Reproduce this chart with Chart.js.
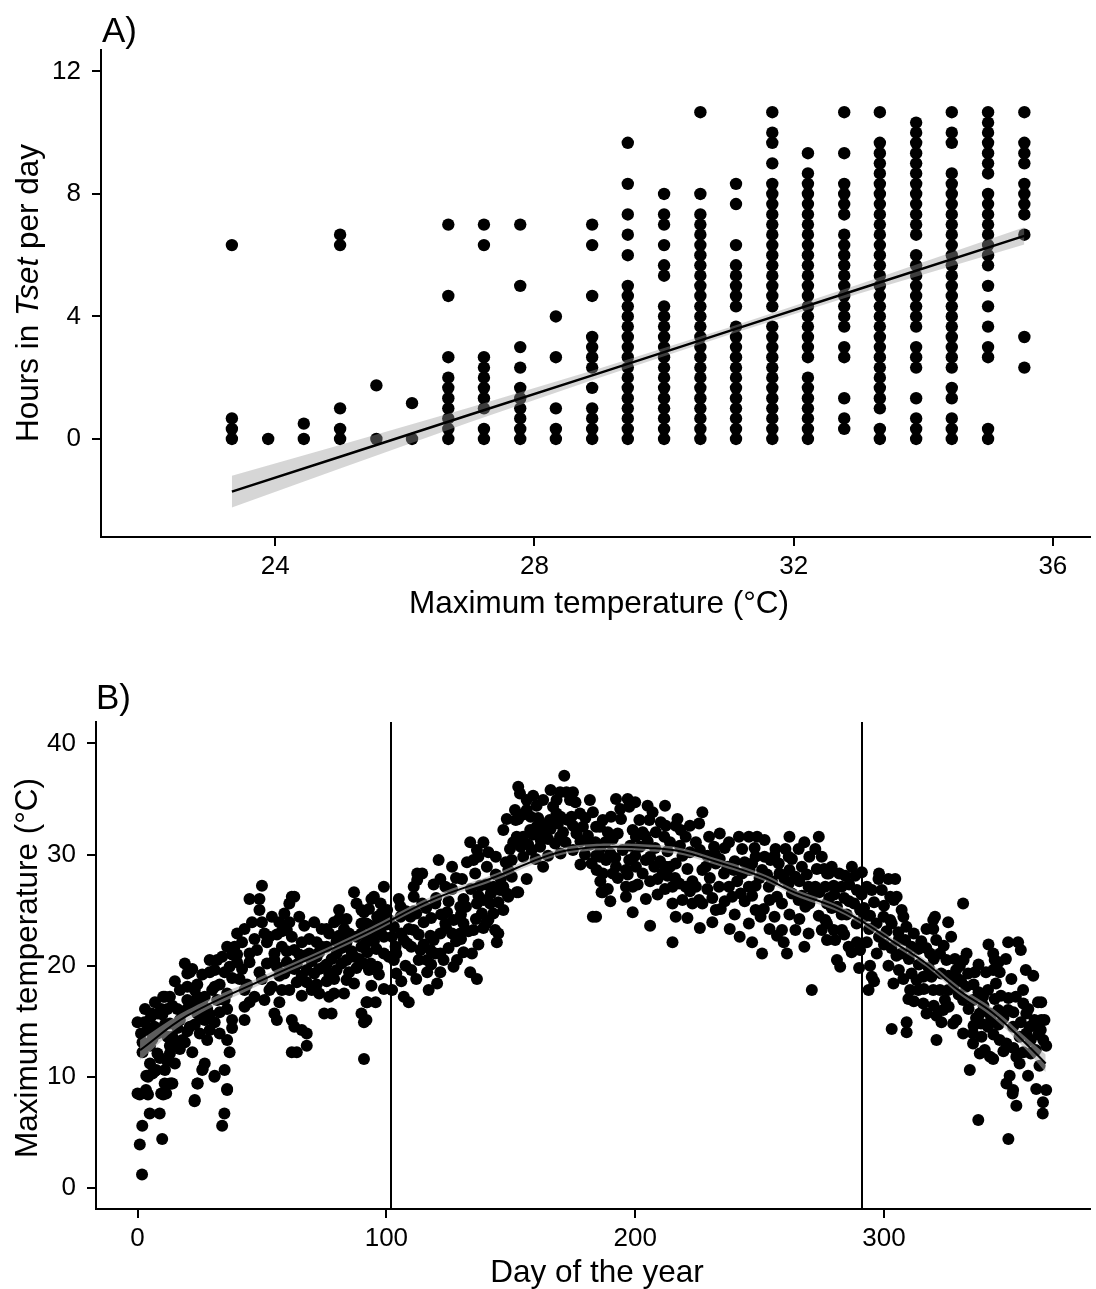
<!DOCTYPE html>
<html lang="en">
<head>
<meta charset="UTF-8">
<title>Hours in Tset and maximum temperature</title>
<script src="https://cdn.jsdelivr.net/npm/chart.js"></script>
<style>
  body { margin: 0; background: #fff; }
  .panel { position: absolute; left: 0; width: 1096px; }
  #panelA { top: 0; height: 640px; }
  #panelB { top: 640px; height: 649px; }
</style>
</head>
<body>
<div class="panel" id="panelA"><canvas id="chartA" width="1096" height="640"></canvas></div>
<div class="panel" id="panelB"><canvas id="chartB" width="1096" height="649"></canvas></div>
<script>
// ---- Panel A: hours in Tset vs daily maximum temperature ----
const tempCols = [23.33, 23.89, 24.44, 25, 25.56, 26.11, 26.67, 27.22, 27.78, 28.33, 28.89, 29.44,
                  30, 30.56, 31.11, 31.67, 32.22, 32.78, 33.33, 33.89, 34.44, 35, 35.56];
const hoursByCol = [
  [6.33, 0.67, 0.33, 0],
  [0],
  [0.5, 0],
  [6.67, 6.33, 1, 0.33, 0],
  [1.75, 0],
  [1.17, 0],
  [7, 4.67, 2.67, 2, 1.67, 1.33, 1, 0.67, 0.33, 0],
  [7, 6.33, 2.67, 2.33, 2, 1.67, 1.33, 1, 0.33, 0],
  [7, 5, 3, 2.33, 1.67, 1.33, 1, 0.67, 0.33, 0],
  [4, 2.67, 1, 0.33, 0],
  [7, 6.33, 4.67, 3.33, 3, 2.67, 2.33, 1.67, 1, 0.67, 0.33, 0],
  [9.67, 8.33, 7.33, 6.67, 6, 5, 4.67, 4.33, 4, 3.67, 3.33, 3, 2.67, 2.33, 2, 1.67, 1.33, 1, 0.67, 0.33, 0],
  [8, 7.33, 7, 6.33, 5.67, 5.33, 4.33, 4, 3.67, 3.33, 3, 2.67, 2.33, 2, 1.67, 1.33, 1, 0.67, 0.33, 0],
  [10.67, 8, 7.33, 7, 6.67, 6.33, 6, 5.67, 5.33, 5, 4.67, 4.33, 4, 3.67, 3.33, 3, 2.67, 2.33, 2, 1.67, 1.33, 1, 0.67, 0.33, 0],
  [8.33, 7.67, 6.33, 5.67, 5.33, 5, 4.67, 4.33, 3.67, 3.33, 3, 2.67, 2.33, 2, 1.67, 1.33, 1, 0.67, 0.33, 0],
  [10.67, 10, 9.67, 9, 8.33, 8, 7.67, 7.33, 7, 6.67, 6.33, 6, 5.67, 5.33, 5, 4.67, 4.33, 3.67, 3.33, 3, 2.67, 2.33, 2, 1.67, 1.33, 1, 0.67, 0.33, 0],
  [9.33, 8.67, 8.33, 8, 7.67, 7.33, 7, 6.67, 6.33, 6, 5.67, 5.33, 5, 4.67, 4.33, 4, 3.67, 3.33, 3, 2.67, 2, 1.67, 1.33, 1, 0.67, 0.33, 0],
  [10.67, 9.33, 8.33, 8, 7.67, 7.33, 6.67, 6.33, 6, 5.67, 5.33, 5, 4.67, 4.33, 4, 3.67, 3, 2.67, 1.33, 0.67, 0.33],
  [10.67, 9.67, 9.33, 9, 8.67, 8.33, 8, 7.67, 7.33, 7, 6.67, 6.33, 6, 5.67, 5.33, 5, 4.67, 4.33, 4, 3.67, 3.33, 3, 2.67, 2.33, 2, 1.67, 1.33, 1, 0.33, 0],
  [10.33, 10, 9.67, 9.33, 9, 8.67, 8.33, 8, 7.67, 7.33, 7, 6.67, 6, 5.67, 5.33, 5, 4.67, 4.33, 4, 3.67, 3, 2.67, 2.33, 1.33, 0.67, 0.33, 0],
  [10.67, 10, 9.67, 8.67, 8.33, 8, 7.67, 7.33, 7, 6.67, 6.33, 6, 5.67, 5.33, 5, 4.67, 4.33, 4, 3.67, 3.33, 3, 2.67, 2.33, 1.67, 1.33, 0.67, 0.33, 0],
  [10.67, 10.33, 10, 9.67, 9.33, 9, 8.67, 8, 7.67, 7.33, 7, 6.67, 6.33, 6, 5.67, 5, 4.33, 3.67, 3, 2.67, 0.33, 0],
  [10.67, 9.67, 9.33, 9, 8.33, 8, 7.67, 7.33, 6.67, 3.33, 2.33]
];
// linear fit with its confidence band
const regX = [23.33, 25, 27, 29, 31, 33, 35.56];
const regFit = [-1.72, -0.58, 0.79, 2.15, 3.52, 4.89, 6.63];
const regHalf = [0.52, 0.38, 0.24, 0.15, 0.12, 0.15, 0.28];
const ticksAX = [24, 28, 32, 36];
const ticksAY = [0, 4, 8, 12];

// ---- Panel B: maximum temperature through the year ----
const ptsWinter = [
  [0.9,3.9],[1.8,1.2],[1.9,5.6],[0.9,8.4],[4.2,8.4],[4.9,6.7],[8.9,6.7],[9.9,4.4],[34,5.6],[34.9,6.7],
  [36,8.9],[22.9,7.8],[24.2,9.4],[30.9,10],[26.2,10.7],[4.2,10],[6.9,10.5],[10.9,9.4],[13.6,9.4],[10.3,8.4],
  [0,14.9],[2.8,14.9],[5.4,15.4],[1.4,13.9],[4,14.2],[6.8,14.5],[2,13.1],[6,13.4],[9.5,14.2],[12,13.6],
  [13,12.8],[16,12.8],[8,12.1],[13,12.1],[15,11.2],[5,11.2],[7.5,10.6],[11,10.6],[3.5,10.1],[6,10.3],
  [13,9.4],[14,9.4],[27,11.2],[26,10.6],[31,10.1],[35,10.6],[36,13.3],[37,12.2],[24,9.4],[36,8.8],
  [23,7.9],[0,8.5],[3.4,8.8],[9.5,8.5],[11.5,8.5],[5.6,15.7],[8.2,15.7],[10.3,17.2],[13,17.2],
  [17,17.8],[20,18.1],[23,17.8],[27,17.2],[11,17.2],[9.5,16.1],[12,16.1],[16,16.1],[19.5,16],[28,16.1],
  [32,16.9],[35,16.9],[24,15.7],[27,15.1],[31,14.9],[21,14.5],[25,13.9],[29,14.2],[13,14.8],[17,15.1],
  [19,20.2],[21,19.4],[20,19.3],[29,20.5],[32,20.5],[29,19.4],[31,19.6],[35,19.4],[38,15.1],[43,15.1],
  [43,16.3],[45,16.7],
  [3,16.1],[7,16.7],[10,15.6],[14,16.4],[16,14.4],[18,15.8],[20,16.9],[22,16.4],[24,17.2],[26,16.6],
  [30,17.8],[33,18.3],[36,17.5],[38,18.9],[8,13.9],[11,14.7],[14,13.6],[18,13.3],[20,14.1],[23,14.7],
  [26,15.3],[29,15.6],[33,15.8],[36,16.1],[2,12.2],[5,12.8],[9,11.7],[12,11.4],[17,12.5],[19,13.1],
  [22,12.2],[28,13.3],[33,13.9],[38,14.4],[24,18.3],[26,19.2],[34,20.8],[37,19.9],[40,20.3],[15,18.6],
  [22,19.7],[31,18.1]
];
const ptsSpring = [
  [50,27.2],[45,26],[49,26],[62,26.2],[63,26.2],[61,25.6],[49,25],[46,23.9],[50,23.9],[40,22.9],
  [43,23.3],[51,22.9],[52,22.1],[57,23.9],[61,23.9],[65,24.4],[71,23.9],[60,23.2],[66,22.1],[72,22.1],
  [74,23.3],[76,23.3],[77,22.9],[81,25],[87,26.6],[88,25.6],[90,25],[81,24.2],[84,24.2],[90,23.8],
  [92,23.8],[94,26],[36,21.7],[39,21.7],[42,22.1],[38,21],[40,21],[45,21.1],[55,21.1],[58,21.7],
  [60,21.3],[52,20.2],[55,20.5],[65,21],[67,20.9],[69,21.1],[73,21.2],[41,18.8],[43,17.8],[49,19.4],
  [50,18.8],[56,19.9],[59,19.3],[60,20.3],[68,19.6],[71,19.3],[73,19.7],[77,19.3],[82,20.2],[85,19.4],
  [79,18.8],[53,17.8],[58,17.8],[61,17.8],[64,18.5],[68,18.5],[70,17.8],[73,17.5],[77,17.2],[87,18.4],
  [55,15.7],[56,15.1],[57,16.7],[62,15.1],[63,14.5],[66,14.2],[68,13.9],[68,12.8],[62,12.2],[64,12.2],
  [75,15.7],[78,15.7],[90,15.7],[92,15.1],[91,11.6],[92,16.7],[79,17.5],[83,17.5],[76,21.7],[80,21.1],
  [84,20.5],[87,20.8],[90,21.7],[92,22.1],[94,22.9],[91,20.2],[93,19.6],[81,22.7],[84,22.1],[90,22.9],
  [42,19.7],[45,20.3],[47,22.4],[48,21.4],[53,22.6],[54,24.4],[56,22.8],[58,23.1],[59,24.7],[62,22.6],
  [63,21.4],[64,20.1],[66,19.1],[67,23.6],[69,22.4],[70,20.4],[72,20.8],[74,21.7],[75,19.9],[76,18.6],
  [78,20.6],[79,23.9],[80,22.2],[82,21.6],[83,23.3],[85,22.9],[86,21.3],[88,22.6],[89,20.6],[91,24.8],
  [93,25.1],[95,22.2],[96,21.5],[97,23.9],[98,24.7],[99,22.6],[100,23.7],[44,18.3],[47,17.2],[51,16.9],
  [54,18.1],[57,19.1],[63,19.7],[66,17.3],[72,18.3],[76,20.1],[80,19.6],[84,18.7],[88,19.8],[94,18.2],
  [97,19.2],[99,17.9],
  [95,26.2],[99,27.1],[97.7,25.6],[105,26],[105.7,25.3],[111,26.2],[114.4,25.6],[119.7,25.6],[124.4,24.8],[131,26],
  [129.7,25.3],[138.4,24.7],[141,24.1],[91,23.8],[93.7,23.6],[96.3,24.4],[100.3,25],[105.7,24.4],[109.7,24.4],[115,23.9],
  [123.7,23.8],[131,23.8],[135,23.2],[139,23.4],[143.7,23.2],[145,22.9],[93.7,22.7],[97.7,23],[102.3,22.6],[107,22.3],
  [111,23.2],[117.7,22.7],[121.7,22.9],[126.4,22.9],[129.7,22.9],[144.4,22.1],[92.3,21.2],[99,21.1],[103.7,21.7],[108.4,22],
  [113.7,21.4],[117.7,21.4],[121.7,21.1],[128.4,20.5],[131,21.2],[134.4,21.1],[93.7,20.2],[96.3,19.9],[103,20.5],[107.7,20],
  [113,20.5],[116.4,20.5],[119.7,21.1],[123,20.5],[116.4,19.4],[121.7,19.4],[117,17.8],[120.4,18.4],[133.7,19.4],[136.4,18.8],
  [102.3,17.8],[107,17.2],[109,16.7],[92.3,16.7],[95.7,16.7],[91,14.9],
  [101,24.1],[103,23.5],[104,21.1],[106,22.9],[108,24.9],[109,23.3],[110,21.7],[112,24.7],[113,22.8],[115,21.9],
  [116,25.2],[118,24.3],[119,22.3],[120,26.1],[122,24.6],[124,23.4],[125,25.8],[127,24.1],[128,22.2],[130,24.6],
  [132,25.3],[133,23.1],[134,26.9],[136,24.2],[137,26.3],[139,25.9],[140,27.3],[142,26.5],[143,24.7],[144,28.2],
  [146,27.8],[148,29.3],[101,20.8],[104,19.3],[106,18.6],[110,19.6],[112,18.8],[118,20.1],[125,21.6],[127,19.9],
  [130,22.4],[137,21.9],[140,23.8],[145,25.7],[149,26.2],[111,24.9],[119,27.3],[128,27.9],[141,30.2],[144,29.8]
];
const ptsSummer = [
  [171.5,37.1],[169.8,35.6],[172.4,35.6],[168.4,34.9],[173.8,34.9],[153,36.1],[153.7,35.5],[156.4,34.9],[160.4,34.4],[151.7,34],
  [156.4,34],[148.4,33.2],[153,33.2],[147,32.2],[149.7,30.5],[150.4,29.5],[149,28.6],[152.4,31.6],[155,31.6],[157.8,32.2],
  [160.4,32.5],[163,32],[154,30.7],[158.4,30.4],[161.8,30.7],[165,31.4],[167.8,31],[169.8,31.6],[165.7,33.1],[168.4,33.7],
  [174.4,33.4],[177.8,33.7],[181.8,34.9],[171,32],[176.4,31.9],[179,32.5],[179.8,30],[182.5,29.2],[184.5,28.6],[185.8,32.5],
  [185.8,29.8],[186.5,26.6],[183,24.4],[163,28.9],[156.4,27.8],[153,26.6],[150.4,28],[147,27.1],[133.7,31.1],[139,31.1],
  [136.4,30.4],[137,29.8],[132.4,29.3],[135,29.5],[140.4,28.9],[121,29.5],[126.4,28.9],[112.4,28.3],[114.4,28.3],[111,27.1],
  [112.4,27.7],[121.7,27.8],[123.7,27.1],[126.4,26.9],[130.4,27.8],[135.7,28.3],[137.7,27.2],[143,27.1],[145.7,26.8],[148.4,26.5],
  [136.4,25.6],[141.7,25.6],[147,25],[152.4,26.6],
  [151,31.1],[152,33.1],[155,33.6],[157,30.9],[158,33.4],[159,31.8],[161,33.3],[162,31.3],[164,32.7],[166,32.3],
  [167,34.3],[169,32.8],[170,33.4],[172,31.1],[173,33.1],[175,32.6],[176,34.7],[178,31.2],[180,33.3],[181,31.7],
  [183,33.8],[184,31.1],[155,29.8],[160,29.6],[165,29.9],[170,30.1],[175,30.4],[178,29.1],[182,30.9],[159,35.3],
  [163,34.9],[166,35.8],[175,35.6],
  [192.3,35],[197,35],[197.6,34.3],[205,34.4],[207,33.8],[201.7,33.1],[205.7,33.1],[210.3,32.9],[212.3,32.6],[217,33.2],
  [227,33.8],[225.7,32.8],[187,33.1],[190.3,33.4],[194.3,33.2],[184.3,32.5],[189,32],[191,31.4],[199,32.2],[200.3,31.6],
  [203,32],[208.3,32],[211.7,31.6],[216.3,32.6],[218.3,32.2],[220.3,31.6],[224.4,31.1],[229.7,31.6],[231.7,30.7],[237.7,31.1],
  [241.7,31.6],[245.7,31.6],[249,31.6],[243,30.5],[248.4,29.8],[256.4,30.5],[260.4,30.5],[265.7,30.5],[273.8,31.6],[272.4,30.5],
  [275,29.8],[184.3,29.9],[188.3,29.5],[192.3,28.9],[196.3,28.6],[187,28.3],[191,28.3],[197.6,29.5],[200.3,28.9],[204.3,29.5],
  [207.7,28.9],[212.3,28.9],[216.3,29.2],[215,27.1],[217.7,27.4],[220.3,27.1],[211,28.3],[213,28.1],[224.4,27.1],[225.7,25.9],
  [223,25.6],[227,25.6],[228.4,28.9],[232.4,29.2],[235.7,28.3],[233.7,27.1],[237.7,27.1],[239,26.2],[242.4,26.5],[232.4,25],
  [234.4,25.1],[231,23.9],[239.7,28.6],[243,28.3],[247,29.2],[251,28.6],[245.7,27.1],[248.4,27.2],[254.4,29.5],[257.7,29.2],
  [261.7,29.8],[253.7,27.1],[257,26.2],[259,25.6],[248.4,25],[251.7,25.1],[250.4,24.4],[245.7,23.8],[261.7,27.4],[264.4,28],
  [267,28.9],[263,26.5],[265.7,25.9],[268.4,25.3],[269.7,27.1],[272.4,27.1],[276.4,27.1],[277.8,28.3],[279,28.9],[273.8,24.5],
  [276.4,24.1],[259,23.2],[257,22.7],[264.4,23.2],[269.7,22.9],[259.7,22.1],[247,22.1],[251,21.1],[261,21.1],[271,17.8],
  [215,25.6],[216.3,24.4],[215,22.1],[187,26.6],[196.3,27.1],[199,27.1],[196.3,26.2],[204.3,26],[184.3,24.4],
  [186,30.6],[188,31.1],[190,30.1],[192,29.7],[193,31.9],[195,30.4],[197,28.2],[198,30.8],[200,29.9],[202,30.7],
  [203,28.3],[205,31.2],[206,29.8],[208,30.6],[209,27.8],[210,29.4],[213,30.3],[214,28.9],[216,27.9],[218,30.8],
  [219,29.9],[221,28.7],[222,30.2],[223,27.6],[226,30.4],[227,28.6],[229,29.9],[230,27.9],[232,30.1],[234,29.6],
  [236,30.6],[237,28.9],[240,29.4],[241,27.6],[244,29.3],[246,28.6],[248,30.6],[250,27.9],[252,29.8],[253,28.2],
  [255,27.6],[256,29.9],[258,28.3],[260,27.8],[262,28.6],[263,29.6],[266,27.6],[267,26.3],[269,28.2],[270,29.8],
  [271,26.2],[273,28.7],[274,26.6],[276,28.7],[278,26.1],[279,25.2],[186,27.6],[189,26.9],[193,27.9],[201,27.3],
  [206,27.6],[209,26.4],[212,26.9],[219,25.9],[222,26.7],[229,26.9],[231,26.1],[236,25.8],[240,24.6],[244,25.8],
  [247,26.3],[254,25.9],[256,24.4],[262,24.6],[266,24.2],[270,25.6],[275,23.2],[190,25.8],[199,24.8],[206,23.6],
  [221,24.3],[226,23.4],[238,23.3],[242,22.6],[254,23.3],[268,21.7],[204,31.7],[214,31.1],[222,32.6],[234,31.9],
  [252,31.3],[262,31.6],[268,31.1],[194,34.1],[200,34.7],[212,34.4]
];
const ptsAutumn = [
  [287.1,28.9],[291.1,28.4],[277.1,28.3],[279.8,27.2],[284.4,28.1],[288.4,28.1],[283,27.1],[289.1,26.8],[293.1,27.1],[297.8,27.8],
  [301.8,27.8],[304.5,27.8],[295.1,26.8],[299.1,26.8],[302.5,26.2],[305.1,26.2],[277.1,25.6],[281.1,25.3],[290.4,25],[294.4,24.5],
  [299.8,24.4],[302.5,24.1],[307.1,25],[307.8,24.4],[331.8,25.6],[277.1,23.8],[279.8,23.2],[283.1,23.2],[277.1,22.3],[280.4,22.3],
  [285.8,21.7],[289.1,22.1],[293.1,22.1],[281.1,20.5],[282.4,19.9],[290.4,21.4],[303.1,23.8],[305.8,23],[308.5,22.3],[311.1,21.7],
  [313.8,21.5],[317.1,23.3],[319.8,24.1],[320.5,24.4],[325.8,23.9],[319.8,23.3],[318.5,21.1],[322.5,21.1],[325.1,20.5],[328.5,20.6],
  [330.5,20],[333.2,21.1],[343.9,21.1],[344.5,20.5],[343.9,19.6],[346.5,19.4],[351.2,18.8],[349.9,22.1],[353.9,22.1],[294.4,20],
  [297.1,21.1],[295.1,19],[293.8,17.8],[301.8,20],[303.8,18.4],[307.8,18.8],[311.1,19.3],[313.1,18.7],[315.8,19],[310.5,17.8],
  [313.8,17.8],[309.8,17],[315.8,16.6],[317.1,15.7],[319.1,19],[319.8,17.8],[322.5,17.8],[325.8,17.8],[324.5,16.9],[323.8,16],
  [329.1,15.1],[321.1,15.5],[323.1,14.9],[327.8,14.8],[329.8,18.8],[333.8,19.3],[336.5,19.4],[331.8,16.9],[335.8,16.9],[339.8,17.2],
  [341.8,17.8],[344.5,17],[349.9,16],[338.5,15.7],[342.5,15.7],[345.9,16],[355.9,17.8],[357.2,15.7],[361.9,16.7],[363.2,15.1],
  [360.5,15.1],[364.5,15.1],[358.5,14.5],[351.9,14.5],[354.5,13.6],[357.2,13.9],[331.8,13.9],[335.8,13.9],[339.2,13.6],[335.8,13],
  [338.5,12.1],[340.5,12.4],[343.9,11.6],[341.8,14.5],[346.5,13.3],[349.2,13],[334.5,10.6],[303.1,14.3],[309.1,14.9],[309.1,14],
  [321.1,13.3],[353.2,11.8],[354.5,11.2],[357.9,10.1],[350.5,10.1],[349.2,9.4],[351.9,8.8],[361.2,8.9],[365.2,8.8],[363.9,7.7],
  [353.2,7.4],[365.2,12.8],[362.5,11],[363.2,16.7],[337.9,6.1],[350,4.4],[351.7,8.5],[363.8,6.7],[342.6,11.8],
  [280,26.4],[282,28.3],[284,26.1],[285,24.6],[286,27.3],[288,25.6],[289,23.8],[291,26.4],[292,25.2],[294,23.3],
  [296,25.7],[297,23.8],[298,22.6],[300,25.4],[301,23.1],[303,21.6],[304,25.9],[306,22.4],[307,21.1],[309,23.5],
  [310,20.6],[312,22.9],[314,20.1],[315,22.2],[317,21.6],[318,19.8],[320,20.6],[321,22.3],[323,19.3],[324,21.8],
  [326,19.1],[327,22.6],[328,18.2],[329,19.6],[331,18.6],[332,20.5],[284,22.8],[287,21.2],[290,19.8],[296,18.6],
  [300,21.9],[305,20.9],[306,19.6],[312,16.8],[316,17.9],[320,16.4],[326,16.3],[330,17.4],[286,25.8],[298,28.3],
  [292,24.4],[283,24.6],
  [333,18.1],[334,16.1],[336,18.3],[337,15.3],[338,17.6],[340,16.4],[341,19.4],[343,15.1],[345,18.4],[346,14.7],
  [347,17.3],[348,15.3],[350,17.1],[352,15.8],[353,17.2],[355,14.9],[356,16.6],[358,16.1],[359,13.3],[360,14.6],
  [362,13.8],[363,14.2],[364,13.3],[336,14.6],[339,14.8],[344,13.8],[348,12.3],[352,12.6],[356,12.2],[359,12.1],
  [361,12.4],[346,20.3],[349,20.6],[342,21.9],[355,21.4],[357,19.6],[360,19.1],[338,20.1]
];
// smooth seasonal fit and half width of its band
const smoothDay = [1, 20, 50, 75, 94, 118, 144, 160, 171, 180, 192, 205, 218, 232, 251, 264, 280, 291, 304, 317, 330, 344, 357, 365];
const smoothFit = [12.4, 15.5, 18.7, 21.2, 23.2, 25.9, 28.0, 29.5, 30.3, 30.6, 30.7, 30.6, 30.3, 29.4, 28.0, 26.6, 25.3, 24.0, 22.1, 20.2, 17.8, 15.7, 13.0, 11.2];
const smoothHalf = [0.9, 0.5, 0.35, 0.3, 0.3, 0.3, 0.3, 0.3, 0.3, 0.3, 0.3, 0.3, 0.3, 0.3, 0.3, 0.3, 0.3, 0.3, 0.3, 0.3, 0.35, 0.4, 0.55, 0.8];
const vlineDays = [102, 291];
const ticksBX = [0, 100, 200, 300];
const ticksBY = [0, 10, 20, 30, 40];

const FONT = '"Liberation Sans", Arial, Helvetica, sans-serif';
const BAND = 'rgba(153,153,153,0.4)';
const BAND_B = 'rgba(170,170,170,0.55)';

// axis in the ggplot classic look: black line, outward ticks, no grid
function axis(min, max, tickVals, fit, pad) {
  return {
    type: 'linear', min: min, max: max,
    afterBuildTicks: s => { s.ticks = tickVals.map(v => ({ value: v })); },
    afterFit: fit,
    grid: { display: true, drawOnChartArea: false, drawTicks: true, tickLength: 9, color: '#000', lineWidth: 2 },
    border: { display: true, color: '#000', width: 2 },
    ticks: { color: '#000', font: { family: FONT, size: 26 }, padding: pad, maxRotation: 0, autoSkip: false }
  };
}

// titles and panel letters drawn straight on the canvas
const textPlugin = {
  id: 'panelText',
  afterDraw(chart, args, opts) {
    const ctx = chart.ctx;
    ctx.save();
    ctx.fillStyle = '#000';
    ctx.textBaseline = 'alphabetic';
    opts.items.forEach(it => {
      ctx.save();
      ctx.translate(it.x, it.y);
      if (it.rotate) ctx.rotate(-Math.PI / 2);
      let widths = it.parts.map(p => {
        ctx.font = (p.italic ? 'italic ' : '') + it.size + 'px ' + FONT;
        return ctx.measureText(p.t).width;
      });
      let total = widths.reduce((a, b) => a + b, 0);
      let x = it.align === 'left' ? 0 : -total / 2;
      it.parts.forEach((p, i) => {
        ctx.font = (p.italic ? 'italic ' : '') + it.size + 'px ' + FONT;
        ctx.textAlign = 'left';
        ctx.fillText(p.t, x, 0);
        x += widths[i];
      });
      ctx.restore();
    });
    ctx.restore();
  }
};

// vertical reference lines for panel B
const vlinePlugin = {
  id: 'vlines',
  afterDatasetsDraw(chart, args, opts) {
    if (!opts.days) return;
    const ctx = chart.ctx, area = chart.chartArea, xs = chart.scales.x;
    ctx.save();
    ctx.strokeStyle = '#000';
    ctx.lineWidth = 2;
    opts.days.forEach(d => {
      const px = Math.round(xs.getPixelForValue(d));
      ctx.beginPath();
      ctx.moveTo(px, area.top);
      ctx.lineTo(px, area.bottom);
      ctx.stroke();
    });
    ctx.restore();
  }
};

// ---- build panel A ----
const ptsA = [];
tempCols.forEach((t, i) => hoursByCol[i].forEach(h => ptsA.push({ x: t, y: h })));

new Chart(document.getElementById('chartA'), {
  type: 'scatter',
  data: {
    datasets: [
      { type: 'line', data: regX.map((x, i) => ({ x: x, y: regFit[i] })), borderColor: '#000', borderWidth: 2.5,
        pointRadius: 0, fill: false, order: 0 },
      { type: 'line', data: regX.map((x, i) => ({ x: x, y: regFit[i] + regHalf[i] })), borderWidth: 0,
        pointRadius: 0, fill: 2, backgroundColor: BAND, order: 1 },
      { type: 'line', data: regX.map((x, i) => ({ x: x, y: regFit[i] - regHalf[i] })), borderWidth: 0,
        pointRadius: 0, fill: false, order: 1 },
      { data: ptsA, pointRadius: 6.2, pointBackgroundColor: '#000', pointBorderWidth: 0, order: 3 }
    ]
  },
  options: {
    responsive: false, animation: false, devicePixelRatio: 1,
    layout: { padding: { top: 50, right: 2, left: 0, bottom: 0 } },
    scales: {
      x: axis(21.31, 36.57, ticksAX, s => { s.height = 103; }, 5),
      y: axis(-3.2, 12.7, ticksAY, s => { s.width = 101; }, 11)
    },
    plugins: {
      legend: { display: false }, tooltip: { enabled: false },
      panelText: { items: [
        { parts: [{ t: 'A)' }], x: 102, y: 42, size: 35, align: 'left' },
        { parts: [{ t: 'Maximum temperature (°C)' }], x: 599, y: 613, size: 31.5 },
        { parts: [{ t: 'Hours in ' }, { t: 'Tset', italic: true }, { t: ' per day' }], x: 38, y: 293, size: 31.5, rotate: true }
      ] }
    }
  },
  plugins: [textPlugin]
});

// ---- build panel B ----
const ptsB = [].concat(ptsWinter, ptsSpring, ptsSummer, ptsAutumn).map(p => ({ x: p[0], y: p[1] }));

new Chart(document.getElementById('chartB'), {
  type: 'scatter',
  data: {
    datasets: [
      { type: 'line', data: smoothDay.map((d, i) => ({ x: d, y: smoothFit[i] })), borderColor: '#000', borderWidth: 2,
        pointRadius: 0, fill: false, tension: 0.4, order: 0 },
      { type: 'line', data: smoothDay.map((d, i) => ({ x: d, y: smoothFit[i] + smoothHalf[i] })), borderWidth: 0,
        pointRadius: 0, fill: 2, backgroundColor: BAND_B, tension: 0.4, order: 1 },
      { type: 'line', data: smoothDay.map((d, i) => ({ x: d, y: smoothFit[i] - smoothHalf[i] })), borderWidth: 0,
        pointRadius: 0, fill: false, tension: 0.4, order: 1 },
      { data: ptsB, pointRadius: 6, pointBackgroundColor: '#000', pointBorderWidth: 0, order: 3 }
    ]
  },
  options: {
    responsive: false, animation: false, devicePixelRatio: 1,
    layout: { padding: { top: 82, right: 2, left: 0, bottom: 0 } },
    scales: {
      x: axis(-16.7, 382.8, ticksBX, s => { s.height = 80; }, 5),
      y: axis(-1.9, 41.93, ticksBY, s => { s.width = 96; }, 11)
    },
    plugins: {
      legend: { display: false }, tooltip: { enabled: false },
      vlines: { days: vlineDays },
      panelText: { items: [
        { parts: [{ t: 'B)' }], x: 96, y: 69, size: 35, align: 'left' },
        { parts: [{ t: 'Day of the year' }], x: 597, y: 642, size: 31.5 },
        { parts: [{ t: 'Maximum temperature (°C)' }], x: 37, y: 328, size: 31.5, rotate: true }
      ] }
    }
  },
  plugins: [textPlugin, vlinePlugin]
});
</script>
</body>
</html>
